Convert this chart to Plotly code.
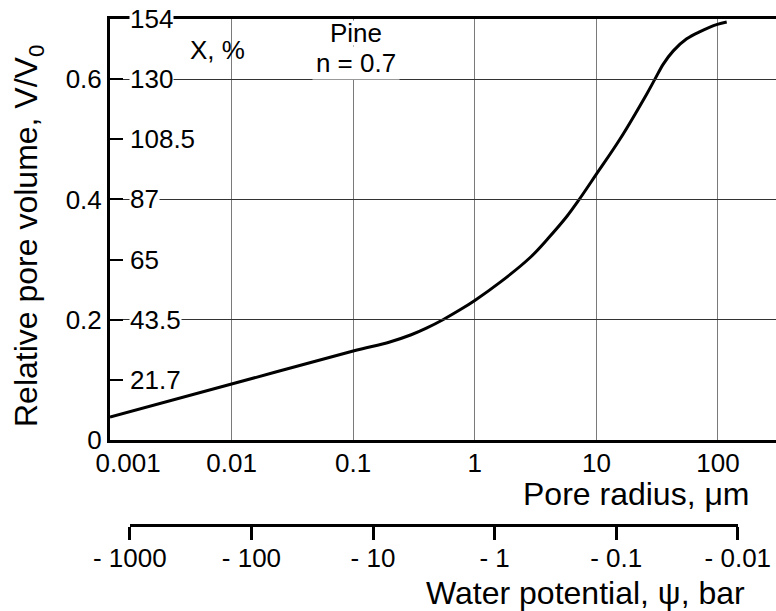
import numpy as np
import plotly.graph_objects as go

# ---- data ----
pore_radius_um = [0.001, 0.01, 0.1, 0.2, 0.3, 0.4, 0.547, 0.75, 1.0, 1.61, 2.84, 4.0, 5.73,
                  7.06, 10.0, 15.6, 25.9, 30.3, 35.5, 42.9, 55.3, 71.2, 98.7, 118.0]
rel_volume = [0.038, 0.093, 0.148, 0.163, 0.175, 0.186, 0.200, 0.216, 0.232, 0.262, 0.303,
              0.335, 0.372, 0.397, 0.442, 0.500, 0.575, 0.600, 0.625, 0.647, 0.667, 0.679,
              0.691, 0.695]

x_ticks = [0.001, 0.01, 0.1, 1, 10, 100]
x_ticktext = ["&nbsp;&nbsp;&nbsp;&nbsp;&nbsp;0.001", "0.01", "0.1", "1", "10", "100"]
y_left_ticks = [0, 0.2, 0.4, 0.6]
y_left_text = ["0", "0.2", "0.4", "0.6"]
y_minor_ticks = [0.1, 0.3, 0.5, 0.7]
x_percent_vals = [0.1, 0.2, 0.3, 0.4, 0.5, 0.6, 0.7]
x_percent_text = ["21.7", "43.5", "65", "87", "108.5", "130", "154"]
psi_ticks = [-1000, -100, -10, -1, -0.1, -0.01]
psi_text = ["- 1000", "- 100", "- 10", "- 1", "- 0.1", "- 0.01"]
K_um_bar = 1.456  # r (um) = K / |psi| (bar)

x_range_log = [-3, np.log10(300)]
y_range = [0, 0.7]

FONT = "Liberation Sans, Arial, sans-serif"
W, H = 776, 611
L, R, T, B = 110, 0, 19, 0
plot_h = H - T - B
plot_w = W - L - R

def yfrac(px):  # pixel row -> paper fraction
    return (H - B - px) / plot_h

def xfrac(px):  # pixel column -> paper fraction
    return (px - L) / plot_w

def xfrac_of_r(r):
    return (np.log10(r) - x_range_log[0]) / (x_range_log[1] - x_range_log[0])

psi_r = [K_um_bar / abs(p) for p in psi_ticks]
x2_domain = [xfrac_of_r(min(psi_r)), xfrac_of_r(max(psi_r))]

fig = go.Figure()
fig.add_trace(go.Scatter(x=pore_radius_um, y=rel_volume, mode="lines",
                         line=dict(color="black", width=3, shape="spline", smoothing=1.0),
                         showlegend=False, hoverinfo="skip"))
# invisible trace to instantiate the secondary (water potential) axis
fig.add_trace(go.Scatter(x=psi_r, y=[0.35] * len(psi_r), xaxis="x2", yaxis="y",
                         mode="markers", marker=dict(opacity=0), showlegend=False,
                         hoverinfo="skip"))

fig.update_layout(
    width=W, height=H,
    margin=dict(l=L, r=R, t=T, b=B, autoexpand=False),
    paper_bgcolor="white", plot_bgcolor="rgba(0,0,0,0)",
    font=dict(family=FONT, size=26, color="black"),
    xaxis=dict(type="log", range=x_range_log, domain=[0, 1],
               tickvals=x_ticks, ticktext=x_ticktext, ticks="",
               showgrid=True, gridcolor="#7a7a7a", gridwidth=1,
               showline=True, linecolor="black", linewidth=3, mirror=True,
               zeroline=False, ticklabelstandoff=-2,
               tickfont=dict(size=26), automargin=False),
    yaxis=dict(range=y_range, domain=[yfrac(440), 1],
               tickvals=y_left_ticks, ticktext=y_left_text,
               ticks="inside", ticklen=13, tickwidth=1.5, tickcolor="black",
               minor=dict(tickvals=y_minor_ticks, ticks="inside", ticklen=13,
                          tickwidth=1.5, tickcolor="black", showgrid=False),
               showgrid=True, gridcolor="#333333", gridwidth=1,
               showline=True, linecolor="black", linewidth=3,
               zeroline=False, tickfont=dict(size=26), automargin=False),
    xaxis2=dict(type="log", anchor="free", position=yfrac(525),
                domain=x2_domain,
                range=[np.log10(min(psi_r)), np.log10(max(psi_r))],
                tickvals=psi_r, ticktext=psi_text,
                ticks="outside", ticklen=13, tickwidth=3, tickcolor="black",
                showline=True, linecolor="black", linewidth=3,
                showgrid=False, zeroline=False, ticklabelstandoff=-4,
                tickfont=dict(size=26), automargin=False),
)

annotations = []
for v, t in zip(x_percent_vals, x_percent_text):
    annotations.append(dict(x=0, xref="x domain", y=v, yref="y", text=t,
                            xanchor="left", yanchor="middle", xshift=19,
                            height=26, showarrow=False, bgcolor="white", borderpad=0,
                            font=dict(size=26, family=FONT, color="black")))
annotations += [
    dict(x=xfrac(217), xref="paper", y=yfrac(50), yref="paper",
         text="X, %", showarrow=False, xanchor="center", yanchor="middle",
         font=dict(size=26, family=FONT)),
    dict(x=xfrac(356), xref="paper", y=yfrac(33), yref="paper",
         text="Pine", showarrow=False, xanchor="center", yanchor="middle",
         height=24, width=86, bgcolor="white", borderpad=0,
         font=dict(size=26, family=FONT)),
    dict(x=xfrac(356), xref="paper", y=yfrac(63), yref="paper",
         text="n = 0.7", showarrow=False, xanchor="center", yanchor="middle",
         height=32, width=86, bgcolor="white", borderpad=0,
         font=dict(size=26, family=FONT)),
    dict(x=xfrac(28), xref="paper", y=yfrac(236), yref="paper",
         text="Relative pore volume, V/V<sub>0</sub>", textangle=-90,
         showarrow=False, xanchor="center", yanchor="middle",
         font=dict(size=32, family=FONT)),
    dict(x=xfrac(752), xref="paper", y=yfrac(494), yref="paper",
         text="Pore radius, μm", showarrow=False, xanchor="right", yanchor="middle",
         font=dict(size=32, family=FONT)),
    dict(x=xfrac(747), xref="paper", y=yfrac(593), yref="paper",
         text="Water potential, ψ, bar", showarrow=False, xanchor="right", yanchor="middle",
         font=dict(size=32, family=FONT)),
]
fig.update_layout(annotations=annotations)

fig.write_html("out.html")
